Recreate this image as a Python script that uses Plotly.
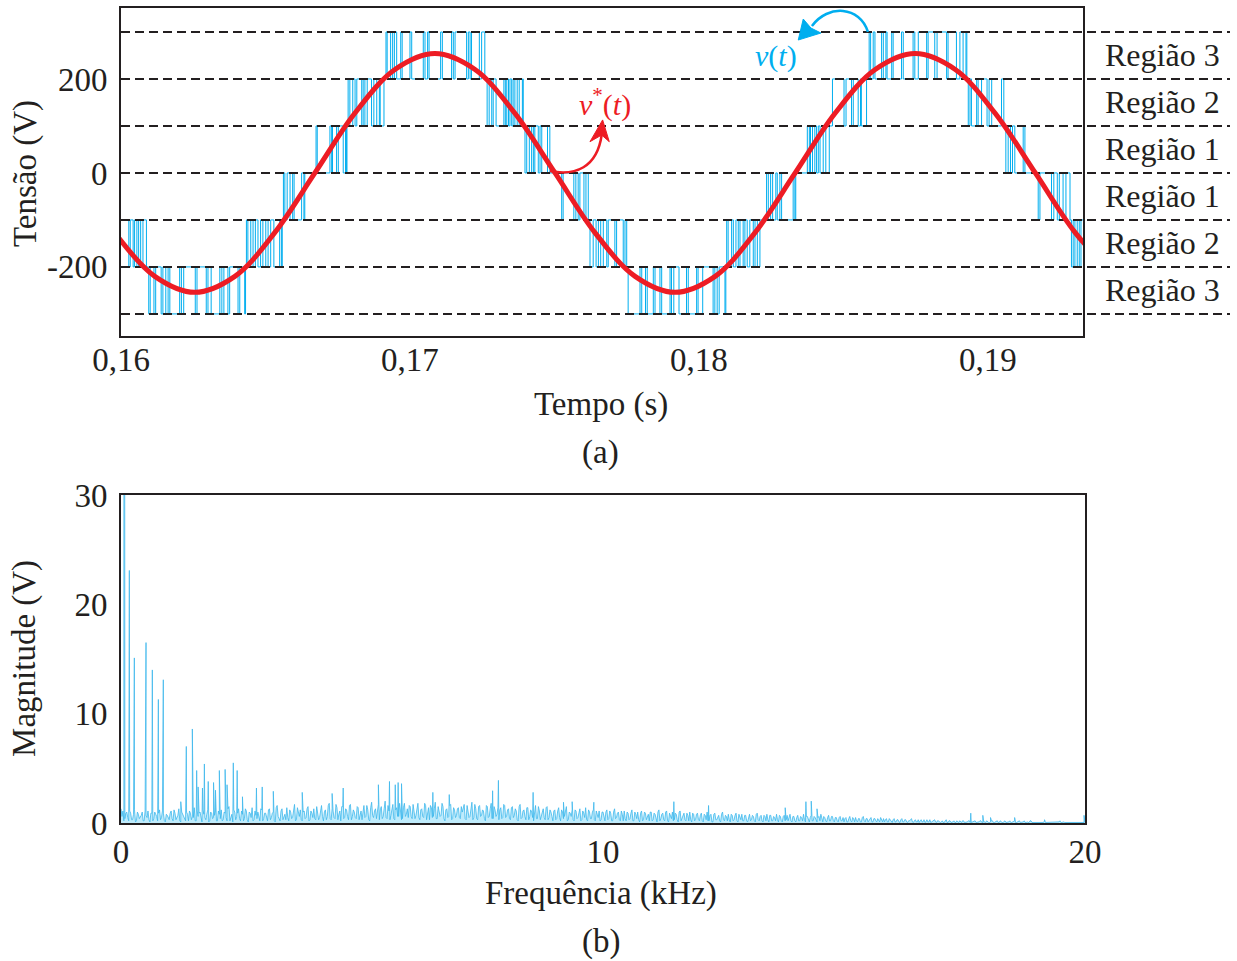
import plotly.graph_objects as go

FONT = "Liberation Serif, Times New Roman, serif"
INK = "#231F20"
BLUE = "#00AEEF"
RED = "#ED1C24"

# ---------------- Panel (a) data ----------------
x_range_a = [0.16, 0.19329]
y_range_a = [-347, 351]
x_ticks_a = [0.16, 0.17, 0.18, 0.19]
x_tick_labels_a = ["0,16", "0,17", "0,18", "0,19"]
y_ticks_a = [-200, 0, 200]
y_tick_labels_a = ["-200", "0", "200"]

levels = [300, 200, 100, 0, -100, -200, -300]
region_labels = ["Região 3", "Região 2", "Região 1", "Região 1", "Região 2", "Região 3"]
region_centers = [250, 150, 50, -50, -150, -250]

# reference voltage v*(t), read every 30 degrees
ref_t = [0.15978, 0.16117, 0.16255, 0.16394, 0.16532, 0.16671, 0.16809, 0.16948,
         0.17086, 0.17225, 0.17363, 0.17502, 0.17640, 0.17779, 0.17917, 0.18056,
         0.18194, 0.18333, 0.18471, 0.18610, 0.18748, 0.18887, 0.19025, 0.19164,
         0.19302, 0.19441]
ref_v = [-127, -220, -254, -220, -127, 0, 127, 220,
         254, 220, 127, 0, -127, -220, -254, -220,
         -127, 0, 127, 220, 254, 220, 127, 0,
         -127, -220]

# multilevel output v(t): band (lo, hi) of each switching segment and its edge times
seg_lo = [-200, -300, -200, -100, 0, 100, 200, 100, 0, -100, -200,
          -300, -200, -100, 0, 100, 200, 100, 0, -100, -200]
seg_hi = [-100, -200, -100, 0, 100, 200, 300, 200, 100, 0, -100,
          -200, -100, 0, 100, 200, 300, 200, 100, 0, -100]
seg_edges = [
    [0.16027, 0.16032, 0.16042, 0.16047, 0.16055, 0.16061, 0.16068, 0.16076],
    [0.16088, 0.16096, 0.16101, 0.16114, 0.16120, 0.16139, 0.16145, 0.16155, 0.16163,
     0.16169, 0.16203, 0.16209, 0.16217, 0.16257, 0.16263, 0.16295, 0.16301, 0.16312,
     0.16342, 0.16349, 0.16356, 0.16370, 0.16376, 0.16405, 0.16411, 0.16428],
    [0.16434, 0.16439, 0.16449, 0.16457, 0.16465, 0.16474, 0.16483, 0.16491, 0.16501,
     0.16509, 0.16518, 0.16529, 0.16549, 0.16555],
    [0.16562, 0.16567, 0.16575, 0.16585, 0.16594, 0.16599, 0.16625, 0.16633],
    [0.16675, 0.16679, 0.16723, 0.16729, 0.16732, 0.16746, 0.16752, 0.16769, 0.16777],
    [0.16782, 0.16786, 0.16792, 0.16802, 0.16810, 0.16816, 0.16833, 0.16838, 0.16844,
     0.16852, 0.16867, 0.16875, 0.16885, 0.16894],
    [0.16910, 0.16917, 0.16921, 0.16933, 0.16940, 0.16946, 0.16954, 0.16968, 0.16973,
     0.17000, 0.17006, 0.17046, 0.17052, 0.17061, 0.17066, 0.17106, 0.17112, 0.17144,
     0.17150, 0.17156, 0.17196, 0.17202, 0.17208, 0.17213, 0.17240, 0.17248, 0.17259],
    [0.17267, 0.17274, 0.17283, 0.17288, 0.17298, 0.17325, 0.17330, 0.17335, 0.17341,
     0.17346, 0.17352, 0.17357, 0.17363, 0.17371, 0.17378, 0.17389],
    [0.17398, 0.17404, 0.17413, 0.17421, 0.17427, 0.17432, 0.17444, 0.17450, 0.17456,
     0.17476, 0.17484],
    [0.17525, 0.17530, 0.17567, 0.17574, 0.17582, 0.17588, 0.17602, 0.17609],
    [0.17617, 0.17623, 0.17634, 0.17644, 0.17652, 0.17660, 0.17669, 0.17681, 0.17686,
     0.17709, 0.17715, 0.17738, 0.17744],
    [0.17750, 0.17755, 0.17796, 0.17802, 0.17815, 0.17821, 0.17842, 0.17848, 0.17865,
     0.17871, 0.17900, 0.17905, 0.17913, 0.17931, 0.17957, 0.17963, 0.17992, 0.17997,
     0.18013, 0.18049, 0.18055, 0.18063, 0.18070, 0.18090],
    [0.18096, 0.18101, 0.18113, 0.18119, 0.18128, 0.18136, 0.18142, 0.18153, 0.18159,
     0.18167, 0.18176, 0.18188, 0.18194, 0.18202, 0.18211],
    [0.18234, 0.18240, 0.18248, 0.18255, 0.18266, 0.18271, 0.18280, 0.18286, 0.18326,
     0.18332],
    [0.18375, 0.18382, 0.18386, 0.18393, 0.18401, 0.18407, 0.18413, 0.18419, 0.18430,
     0.18439],
    [0.18451, 0.18462, 0.18502, 0.18509, 0.18528, 0.18534, 0.18551, 0.18559],
    [0.18580, 0.18589, 0.18594, 0.18603, 0.18609, 0.18632, 0.18638, 0.18647, 0.18651,
     0.18667, 0.18672, 0.18701, 0.18707, 0.18741, 0.18747, 0.18759, 0.18788, 0.18793,
     0.18816, 0.18824, 0.18857, 0.18862, 0.18891, 0.18903, 0.18914, 0.18924],
    [0.18932, 0.18938, 0.18943, 0.18961, 0.18966, 0.18978, 0.18997, 0.19004, 0.19013,
     0.19047, 0.19055],
    [0.19062, 0.19070, 0.19078, 0.19085, 0.19093, 0.19122, 0.19128],
    [0.19174, 0.19180, 0.19220, 0.19228, 0.19240, 0.19247, 0.19260, 0.19270],
    [0.19284, 0.19289, 0.19295, 0.19301, 0.19309, 0.19316, 0.19322],
]

# ---------------- Panel (b) data ----------------
x_ticks_b = [0, 10, 20]
y_ticks_b = [0, 10, 20, 30]

spike_freq = [0.06, 0.173, 0.277, 0.519, 0.65, 0.775, 0.878, 1.24, 1.355, 1.48, 1.57,
              1.60, 1.69, 1.73, 1.81, 1.92, 1.96, 2.04, 2.16, 2.20, 2.33, 2.41, 2.52,
              2.81, 2.93, 3.16, 3.76, 4.38, 4.61, 5.34, 5.57, 5.69, 5.75, 5.82, 6.47,
              6.81, 7.71, 7.83, 8.55, 9.18, 9.36, 9.81, 11.47, 12.19, 13.78, 14.21,
              14.32, 14.44, 17.63, 17.88, 18.04, 18.54, 19.16, 19.98]
spike_mag = [255, 23.1, 15.1, 16.5, 14.0, 11.3, 13.1, 1.95, 7.0, 8.6, 4.8,
             3.3, 3.2, 5.4, 3.8, 3.7, 3.0, 4.8, 4.9, 3.5, 5.5, 4.8, 2.4,
             3.2, 3.3, 2.9, 2.8, 2.7, 3.2, 3.5, 3.8, 3.5, 3.7, 3.6, 2.8,
             2.6, 2.95, 3.9, 2.8, 1.9, 1.95, 1.9, 1.95, 1.6, 1.4, 1.95,
             2.0, 1.3, 0.9, 0.7, 0.5, 0.5, 0.3, 0.7]

# noise floor on a 0.04 kHz grid (starting at 0) ...
noise_step_khz = 0.04
noise_mag = [
    1.3, 1.1, 0.4, 1.0, 0.2, 0.9, 0.3, 1.2, 0.2, 0.8, 0.5, 1.0, 0.2, 0.7, 1.1, 0.1, 0.9, 0.4, 0.8, 0.2, 1.2, 0.5, 0.9, 0.1, 0.7,
    0.3, 1.1, 0.2, 0.9, 0.5, 1.3, 0.1, 0.8, 0.4, 1.0, 0.2, 0.9, 0.6, 1.4, 0.2, 0.6, 1.0, 0.1, 0.8, 0.3, 1.2, 0.2, 0.9, 0.5, 1.1,
    0.2, 0.8, 1.2, 0.3, 0.9, 0.2, 1.5, 0.5, 0.1, 1.0, 0.6, 1.3, 0.2, 0.8, 0.4, 1.1, 0.1, 0.9, 1.4, 0.3, 0.7, 1.0, 0.2, 1.2, 0.4,
    0.9, 0.2, 1.3, 0.5, 1.0, 0.1, 1.6, 0.4, 1.1, 0.3, 0.8, 1.4, 0.2, 1.0, 0.5, 1.7, 0.3, 0.9, 1.2, 0.2, 1.1, 0.5, 1.5, 0.3, 0.9,
    1.3, 0.3, 1.0, 0.5, 1.6, 0.2, 1.2, 0.6, 1.8, 0.3, 1.1, 0.4, 1.4, 0.8, 0.2, 1.5, 0.5, 1.2, 0.3, 1.7, 0.6, 1.0, 0.4, 1.4, 0.7,
    0.3, 1.6, 0.6, 1.2, 0.2, 1.9, 0.5, 1.3, 0.9, 0.3, 1.5, 0.6, 2.0, 0.4, 1.1, 0.7, 1.7, 0.3, 1.4, 0.6, 1.2, 0.4, 1.8, 0.8, 0.5,
    1.5, 0.4, 1.2, 0.7, 1.8, 0.3, 1.3, 0.5, 1.6, 0.8, 0.3, 1.4, 0.6, 1.9, 0.4, 1.1, 0.7, 1.5, 0.2, 1.3, 0.6, 1.7, 0.4, 1.2, 0.7,
    1.4, 0.4, 1.0, 1.7, 0.3, 1.2, 0.6, 1.9, 0.5, 1.3, 0.3, 1.6, 0.7, 1.1, 0.2, 1.5, 0.6, 1.8, 0.4, 1.2, 0.8, 0.3, 1.4, 0.5, 1.6,
    0.6, 1.3, 0.3, 1.5, 0.7, 1.1, 0.2, 1.7, 0.5, 1.2, 0.3, 1.4, 0.6, 1.0, 0.2, 1.6, 0.4, 1.1, 0.7, 1.3, 0.3, 1.5, 0.5, 1.0, 0.2,
    1.2, 0.4, 1.4, 0.2, 1.0, 0.6, 1.5, 0.3, 0.9, 1.2, 0.2, 1.1, 0.5, 1.3, 0.3, 0.9, 1.4, 0.2, 1.0, 0.4, 1.2, 0.2, 0.8, 1.1, 0.3,
    1.0, 0.2, 1.2, 0.4, 0.9, 0.2, 1.3, 0.5, 1.0, 0.2, 0.8, 1.1, 0.2, 0.9, 0.4, 1.2, 0.2, 0.8, 1.0, 0.1, 1.1, 0.3, 0.9, 0.5, 0.2,
    1.0, 0.3, 0.8, 0.1, 1.2, 0.4, 0.9, 0.2, 1.1, 0.1, 0.7, 1.0, 0.3, 0.8, 0.1, 1.1, 0.4, 0.9, 0.2, 0.7, 1.0, 0.1, 0.8, 0.3, 0.9,
    0.2, 0.9, 0.1, 0.7, 1.0, 0.2, 0.8, 0.1, 0.9, 0.3, 0.7, 0.1, 1.0, 0.2, 0.6, 0.8, 0.1, 0.7, 0.3, 0.9, 0.1, 0.6, 0.8, 0.2, 0.7,
    0.1, 0.8, 0.3, 0.6, 0.1, 0.9, 0.2, 0.7, 0.1, 0.6, 0.8, 0.1, 0.7, 0.2, 0.5, 0.8, 0.1, 0.6, 0.1, 0.7, 0.3, 0.2, 0.8, 0.1, 0.6,
    0.1, 0.7, 0.2, 0.5, 0.8, 0.1, 0.6, 0.1, 0.7, 0.2, 0.5, 0.1, 0.6, 0.8, 0.1, 0.5, 0.1, 0.7, 0.2, 0.6, 0.1, 0.5, 0.1, 0.6, 0.2,
    0.1, 0.5, 0.1, 0.6, 0.1, 0.4, 0.5, 0.1, 0.4, 0.1, 0.6, 0.1, 0.4, 0.2, 0.5, 0.1, 0.4, 0.1, 0.2, 0.5, 0.1, 0.1, 0.4, 0.1, 0.3,
    0.05, 0.4, 0.1, 0.3, 0.05, 0.4, 0.1, 0.3, 0.05, 0.2, 0.4, 0.05, 0.3, 0.1, 0.05, 0.3, 0.1, 0.05, 0.3, 0.1, 0.05, 0.2, 0.3, 0.05, 0.2,
    0.05, 0.2, 0.05, 0.3, 0.05, 0.2, 0.05, 0.2, 0.05, 0.1, 0.2, 0.05, 0.2, 0.05, 0.1, 0.2, 0.05, 0.1, 0.2, 0.05, 0.1, 0.2, 0.05, 0.1, 0.2,
    0.05, 0.1, 0.2, 0.05, 0.1, 0.05, 0.2, 0.05, 0.1, 0.05, 0.1, 0.2, 0.05, 0.1, 0.05, 0.1, 0.2, 0.05, 0.1, 0.05, 0.1, 0.05, 0.2, 0.05, 0.1,
    0.05, 0.1, 0.05, 0.1, 0.2, 0.05, 0.1, 0.05, 0.1, 0.05, 0.1, 0.05, 0.2, 0.05, 0.1, 0.05, 0.1, 0.05, 0.1, 0.05, 0.1, 0.05, 0.1, 0.05, 0.1,
    0.05,
]
# ... and the in-between samples (0.02 kHz + multiples of 0.04 kHz)
noise_mid_offset_khz = 0.02
noise_mag_mid = [
    0.6, 0.2, 0.9, 0.5, 1.1, 0.3, 0.8, 0.1, 1.0, 0.4, 0.7, 0.2, 1.1, 0.5, 0.3, 0.9, 0.2, 1.0, 0.6, 0.9, 0.3, 1.1, 0.2, 0.8, 0.4,
    0.9, 0.4, 1.2, 0.3, 0.7, 0.2, 1.0, 0.6, 0.2, 0.8, 1.1, 0.3, 0.5, 0.2, 1.1, 0.9, 0.3, 1.2, 0.5, 0.8, 0.1, 1.0, 0.4, 0.7, 0.2,
    1.1, 0.4, 0.2, 1.0, 0.5, 1.3, 0.2, 0.8, 1.2, 0.3, 0.9, 0.4, 1.1, 0.2, 1.3, 0.3, 1.0, 0.5, 0.2, 1.1, 0.4, 0.6, 1.3, 0.2, 0.9,
    0.4, 1.2, 0.3, 0.9, 0.2, 1.4, 0.6, 0.2, 1.3, 0.7, 0.3, 0.5, 1.2, 0.4, 1.1, 0.2, 1.4, 0.6, 0.3, 1.0, 0.4, 1.3, 0.2, 1.1, 0.5,
    0.4, 1.5, 0.3, 1.2, 0.6, 1.0, 0.3, 1.6, 0.4, 1.3, 0.5, 1.7, 0.3, 1.1, 1.5, 0.4, 1.3, 0.6, 1.6, 0.3, 1.2, 0.5, 1.5, 0.3, 1.1,
    1.2, 0.5, 1.6, 0.3, 1.4, 0.7, 1.1, 0.4, 1.7, 1.2, 0.4, 1.3, 0.5, 1.6, 0.3, 1.5, 0.4, 1.2, 0.6, 1.8, 0.3, 1.4, 0.6, 1.3, 1.6,
    0.6, 1.7, 0.4, 1.5, 0.5, 1.2, 0.6, 1.8, 0.3, 1.4, 1.6, 0.5, 1.3, 0.4, 1.5, 0.6, 1.8, 0.4, 1.2, 0.5, 1.6, 0.3, 1.4, 0.5, 1.3,
    0.5, 1.5, 1.3, 0.4, 1.6, 0.5, 1.4, 0.3, 1.7, 0.4, 1.5, 0.6, 1.2, 0.4, 1.6, 0.5, 1.3, 0.4, 1.5, 0.6, 1.4, 1.2, 0.4, 1.7, 0.5,
    1.2, 0.4, 1.4, 0.5, 1.3, 0.3, 1.5, 0.4, 1.1, 0.6, 1.4, 0.3, 1.2, 0.5, 1.3, 0.4, 1.5, 0.3, 1.2, 0.5, 1.4, 0.3, 1.2, 0.6, 1.1,
    0.3, 1.1, 0.5, 1.2, 0.4, 1.3, 0.2, 1.0, 0.6, 0.3, 1.2, 0.4, 1.0, 0.2, 1.1, 0.5, 0.3, 1.2, 0.4, 1.0, 0.3, 1.1, 0.5, 0.2, 1.0,
    0.4, 1.0, 0.3, 1.1, 0.2, 1.0, 0.4, 0.9, 0.3, 1.1, 0.2, 0.4, 1.0, 0.3, 0.9, 0.2, 1.0, 0.4, 0.3, 0.9, 0.2, 1.0, 0.3, 0.8, 1.0,
    0.2, 0.9, 0.3, 1.0, 0.2, 0.8, 0.3, 1.0, 0.2, 0.9, 0.4, 0.2, 0.9, 0.3, 1.0, 0.2, 0.7, 0.3, 0.9, 0.2, 0.3, 0.9, 0.2, 0.8, 0.3,
    0.7, 0.2, 0.8, 0.3, 0.2, 0.7, 0.1, 0.8, 0.3, 0.6, 0.2, 0.8, 0.3, 0.7, 0.2, 0.3, 0.8, 0.2, 0.7, 0.2, 0.8, 0.3, 0.2, 0.7, 0.2,
    0.6, 0.2, 0.7, 0.2, 0.8, 0.3, 0.6, 0.2, 0.7, 0.2, 0.3, 0.7, 0.2, 0.6, 0.2, 0.3, 0.7, 0.2, 0.6, 0.2, 0.7, 0.6, 0.2, 0.6, 0.2,
    0.5, 0.2, 0.6, 0.2, 0.3, 0.6, 0.2, 0.5, 0.2, 0.6, 0.2, 0.5, 0.2, 0.3, 0.6, 0.2, 0.5, 0.2, 0.6, 0.2, 0.5, 0.2, 0.5, 0.2, 0.5,
    0.4, 0.1, 0.4, 0.2, 0.5, 0.1, 0.2, 0.4, 0.1, 0.5, 0.2, 0.4, 0.1, 0.4, 0.1, 0.4, 0.2, 0.4, 0.1, 0.2, 0.4, 0.3, 0.1, 0.4, 0.1,
    0.3, 0.1, 0.3, 0.1, 0.3, 0.1, 0.3, 0.1, 0.2, 0.3, 0.1, 0.2, 0.1, 0.3, 0.2, 0.1, 0.3, 0.1, 0.1, 0.3, 0.1, 0.2, 0.1, 0.2, 0.1,
    0.1, 0.05, 0.2, 0.05, 0.2, 0.05, 0.1, 0.05, 0.2, 0.05, 0.1, 0.2, 0.05, 0.1, 0.2, 0.05, 0.1, 0.2, 0.05, 0.1, 0.2, 0.05, 0.1, 0.05, 0.1,
    0.05, 0.2, 0.05, 0.1, 0.2, 0.05, 0.1, 0.05, 0.2, 0.05, 0.1, 0.05, 0.1, 0.2, 0.05, 0.1, 0.05, 0.1, 0.2, 0.05, 0.05, 0.2, 0.05, 0.1, 0.05,
    0.1, 0.05, 0.1, 0.05, 0.05, 0.1, 0.05, 0.1, 0.05, 0.1, 0.05, 0.1, 0.05, 0.1, 0.05, 0.1, 0.05, 0.1, 0.05, 0.1, 0.05, 0.1, 0.05, 0.1, 0.05,
]

# ---------------- build the step waveform ----------------
RETURN_DT = 0.00003
step_t = [x_range_a[0]]
first_base = seg_lo[0] if abs(seg_lo[0]) < abs(seg_hi[0]) else seg_hi[0]
step_v = [first_base]
cur = first_base
for lo, hi, edges in zip(seg_lo, seg_hi, seg_edges):
    base = lo if abs(lo) < abs(hi) else hi
    other = hi if base == lo else lo
    for e in edges:
        if cur not in (lo, hi):
            nxt = base
        else:
            nxt = other if cur == base else base
        step_t.append(e)
        step_v.append(nxt)
        cur = nxt
    if cur != base:
        step_t.append(edges[-1] + RETURN_DT)
        step_v.append(base)
        cur = base
step_t.append(x_range_a[1])
step_v.append(cur)

# ---------------- build the spectrum ----------------
noise_f = [round(i * noise_step_khz, 3) for i in range(len(noise_mag))]
noise_f_mid = [round(noise_mid_offset_khz + i * noise_step_khz, 3) for i in range(len(noise_mag_mid))]
spec = sorted(zip(noise_f + noise_f_mid + spike_freq, noise_mag + noise_mag_mid + spike_mag))
spec_f = [p[0] for p in spec]
spec_m = [p[1] for p in spec]

fig = go.Figure()

fig.add_trace(go.Scatter(x=step_t, y=step_v, mode="lines",
                         line=dict(color=BLUE, width=1, shape="hv"),
                         xaxis="x", yaxis="y", hoverinfo="skip"))
for lv in levels:
    fig.add_trace(go.Scatter(x=x_range_a, y=[lv, lv], mode="lines",
                             line=dict(color=INK, width=2, dash="9px,5px"),
                             xaxis="x", yaxis="y", hoverinfo="skip"))
fig.add_trace(go.Scatter(x=ref_t, y=ref_v, mode="lines",
                         line=dict(color=RED, width=5, shape="spline"),
                         xaxis="x", yaxis="y", hoverinfo="skip"))
fig.add_trace(go.Scatter(x=spec_f, y=spec_m, mode="lines",
                         line=dict(color="#3DB8EC", width=0.8),
                         fill="tozeroy", fillcolor="rgba(0,174,239,0.25)",
                         xaxis="x2", yaxis="y2", hoverinfo="skip"))

tickfont = dict(family=FONT, size=33, color=INK)
axis_common = dict(showgrid=False, zeroline=False, showline=True, mirror=True,
                   linecolor=INK, linewidth=2, ticks="", tickfont=tickfont,
                   automargin=False)

shapes = []
for lv in levels:
    shapes.append(dict(type="line", xref="paper", yref="y", x0=0, x1=1.1504,
                       y0=lv, y1=lv, layer="below",
                       line=dict(color=INK, width=2, dash="9px,5px")))
# red curved arrow for v*(t)
shapes.append(dict(type="path", xref="x", yref="y", layer="above",
                   path="M 0.174845,4.1 C 0.175709,-6.5 0.176471,10.5 0.176633,80.7",
                   line=dict(color=RED, width=2.5)))
shapes.append(dict(type="path", xref="x", yref="y", layer="above",
                   path="M 0.176667,112.8 L 0.176229,66.5 L 0.176633,80.7 L 0.176897,66.5 Z",
                   fillcolor=RED, line=dict(color=RED, width=1)))
# blue curved arrow for v(t)
shapes.append(dict(type="path", xref="x", yref="y", layer="above",
                   path="M 0.185848,300 C 0.185571,355.3 0.184464,359.5 0.183910,312.7",
                   line=dict(color=BLUE, width=2.5)))
shapes.append(dict(type="path", xref="x", yref="y", layer="above",
                   path="M 0.183436,282.9 L 0.183609,327.6 L 0.183875,308.4 L 0.184221,297.8 Z",
                   fillcolor=BLUE, line=dict(color=BLUE, width=1)))

txt = dict(family=FONT, size=33, color=INK)
reg_txt = dict(family=FONT, size=32, color=INK)
annotations = []
for lab, yc in zip(region_labels, region_centers):
    annotations.append(dict(text=lab, xref="paper", yref="y", x=1.0809, y=yc,
                            xanchor="center", yanchor="middle", showarrow=False, font=reg_txt))
annotations += [
    dict(text="Tensão (V)", xref="paper", yref="paper", x=-0.0996, y=0.7975,
         textangle=-90, showarrow=False, font=txt, xanchor="center", yanchor="middle"),
    dict(text="Magnitude (V)", xref="paper", yref="paper", x=-0.0996, y=0.2025,
         textangle=-90, showarrow=False, font=txt, xanchor="center", yanchor="middle"),
    dict(text="Tempo (s)", xref="paper", yref="paper", x=0.4979, y=0.5129,
         showarrow=False, font=txt, xanchor="center", yanchor="middle"),
    dict(text="(a)", xref="paper", yref="paper", x=0.4979, y=0.4552,
         showarrow=False, font=txt, xanchor="center", yanchor="middle"),
    dict(text="Frequência (kHz)", xref="paper", yref="paper", x=0.4979, y=-0.0859,
         showarrow=False, font=txt, xanchor="center", yanchor="middle"),
    dict(text="(b)", xref="paper", yref="paper", x=0.4979, y=-0.1448,
         showarrow=False, font=txt, xanchor="center", yanchor="middle"),
    dict(text="<i>v</i>(<i>t</i>)", xref="x", yref="y", x=0.182664, y=249,
         showarrow=False, font=dict(family=FONT, size=30, color=BLUE),
         xanchor="center", yanchor="middle"),
    dict(text="<i>v</i><sup>*</sup>(<i>t</i>)", xref="x", yref="y", x=0.176747, y=149,
         showarrow=False, font=dict(family=FONT, size=30, color=RED),
         xanchor="center", yanchor="middle"),
]

fig.update_layout(
    width=1237, height=961,
    margin=dict(l=121, r=152, t=8, b=138, autoexpand=False),
    paper_bgcolor="white", plot_bgcolor="white",
    showlegend=False,
    font=dict(family=FONT, color=INK),
    xaxis=dict(domain=[0, 0.99793], anchor="y", range=x_range_a,
               tickvals=x_ticks_a, ticktext=x_tick_labels_a,
               ticklabelstandoff=-7, **axis_common),
    yaxis=dict(domain=[0.59755, 1.0], anchor="x", range=y_range_a,
               tickvals=y_ticks_a, ticktext=y_tick_labels_a,
               ticklabelstandoff=5, **axis_common),
    xaxis2=dict(domain=[0, 1.0], anchor="y2", range=[0, 20],
                tickvals=x_ticks_b, ticklabelstandoff=-2, **axis_common),
    yaxis2=dict(domain=[0, 0.40245], anchor="x2", range=[0, 30],
                tickvals=y_ticks_b, ticklabelstandoff=5, **axis_common),
    shapes=shapes,
    annotations=annotations,
)

fig.write_html("out.html")
